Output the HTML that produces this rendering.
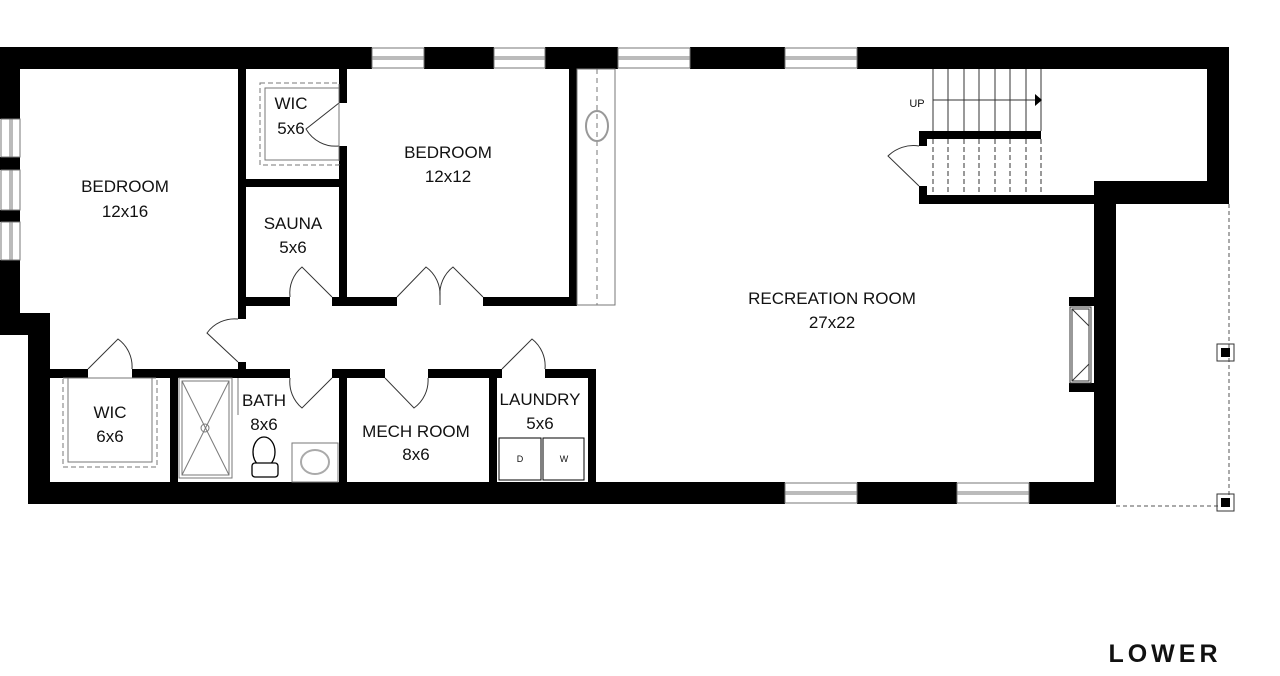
<!DOCTYPE html>
<html><head><meta charset="utf-8"><style>
html,body{margin:0;padding:0;background:#fff;width:1280px;height:676px;overflow:hidden}
svg text{font-family:"Liberation Sans",sans-serif;font-size:17px;fill:#111;text-anchor:middle}
</style></head><body>
<svg width="1280" height="676" viewBox="0 0 1280 676" xmlns="http://www.w3.org/2000/svg">
<g fill="#000">
<!-- top wall -->
<rect x="0" y="47" width="372" height="22"/>
<rect x="424" y="47" width="70" height="22"/>
<rect x="545" y="47" width="73" height="22"/>
<rect x="690" y="47" width="95" height="22"/>
<rect x="857" y="47" width="372" height="22"/>
<!-- right upper -->
<rect x="1207" y="47" width="22" height="157"/>
<rect x="1094" y="181" width="135" height="23"/>
<rect x="1094" y="181" width="22" height="323"/>
<!-- stair walls -->
<rect x="919" y="195" width="190" height="9"/>
<rect x="919" y="131" width="122" height="8"/>
<rect x="919" y="131" width="8" height="15"/>
<rect x="919" y="186" width="8" height="18"/>
<!-- fireplace -->
<rect x="1069" y="297" width="27" height="9"/>
<rect x="1069" y="383" width="27" height="9"/>
<!-- bottom wall -->
<rect x="28" y="482" width="757" height="22"/>
<rect x="857" y="482" width="100" height="22"/>
<rect x="1029" y="482" width="87" height="22"/>
<!-- left wall -->
<rect x="0" y="47" width="20" height="72"/>
<rect x="0" y="157" width="20" height="13"/>
<rect x="0" y="210" width="20" height="12"/>
<rect x="0" y="260" width="20" height="75"/>
<rect x="0" y="313" width="50" height="22"/>
<rect x="28" y="313" width="22" height="191"/>
<!-- interior walls -->
<rect x="238" y="69" width="8" height="250"/>
<rect x="238" y="362" width="8" height="16"/>
<rect x="339" y="69" width="8" height="34"/>
<rect x="339" y="146" width="8" height="160"/>
<rect x="246" y="179" width="93" height="8"/>
<rect x="569" y="69" width="8" height="237"/>
<rect x="246" y="297" width="44" height="9"/>
<rect x="332" y="297" width="65" height="9"/>
<rect x="483" y="297" width="94" height="9"/>
<!-- lower corridor wall -->
<rect x="50" y="369" width="38" height="9"/>
<rect x="132" y="369" width="158" height="9"/>
<rect x="332" y="369" width="53" height="9"/>
<rect x="428" y="369" width="74" height="9"/>
<rect x="545" y="369" width="51" height="9"/>
<rect x="170" y="378" width="8" height="105"/>
<rect x="339" y="378" width="8" height="105"/>
<rect x="489" y="378" width="8" height="105"/>
<rect x="588" y="369" width="8" height="114"/>
</g>
<g fill="none" stroke="#777" stroke-width="1">
<!-- windows -->
<rect x="372" y="48" width="52" height="20"/><line x1="372" y1="57" x2="424" y2="57"/><line x1="372" y1="59" x2="424" y2="59"/>
<rect x="494" y="48" width="51" height="20"/><line x1="494" y1="57" x2="545" y2="57"/><line x1="494" y1="59" x2="545" y2="59"/>
<rect x="618" y="48" width="72" height="20"/><line x1="618" y1="57" x2="690" y2="57"/><line x1="618" y1="59" x2="690" y2="59"/>
<rect x="785" y="48" width="72" height="20"/><line x1="785" y1="57" x2="857" y2="57"/><line x1="785" y1="59" x2="857" y2="59"/>
<rect x="785" y="483" width="72" height="20"/><line x1="785" y1="492" x2="857" y2="492"/><line x1="785" y1="494" x2="857" y2="494"/>
<rect x="957" y="483" width="72" height="20"/><line x1="957" y1="492" x2="1029" y2="492"/><line x1="957" y1="494" x2="1029" y2="494"/>
<rect x="1" y="119" width="19" height="38"/><line x1="10" y1="119" x2="10" y2="157"/><line x1="12" y1="119" x2="12" y2="157"/>
<rect x="1" y="170" width="19" height="40"/><line x1="10" y1="170" x2="10" y2="210"/><line x1="12" y1="170" x2="12" y2="210"/>
<rect x="1" y="222" width="19" height="38"/><line x1="10" y1="222" x2="10" y2="260"/><line x1="12" y1="222" x2="12" y2="260"/>
<!-- closet strip -->
<rect x="577" y="69" width="38" height="236"/>
<line x1="597" y1="69" x2="597" y2="305" stroke-dasharray="5,4"/>
<ellipse cx="597" cy="126" rx="11" ry="15" stroke="#999" stroke-width="2"/>
<!-- stairs -->
<g stroke="#333">
<line x1="933" y1="69" x2="933" y2="131"/><line x1="948" y1="69" x2="948" y2="131"/><line x1="964" y1="69" x2="964" y2="131"/><line x1="979" y1="69" x2="979" y2="131"/><line x1="995" y1="69" x2="995" y2="131"/><line x1="1010" y1="69" x2="1010" y2="131"/><line x1="1026" y1="69" x2="1026" y2="131"/><line x1="1041" y1="69" x2="1041" y2="131"/>
<g stroke-dasharray="5,3"><line x1="933" y1="139" x2="933" y2="195"/><line x1="948" y1="139" x2="948" y2="195"/><line x1="964" y1="139" x2="964" y2="195"/><line x1="979" y1="139" x2="979" y2="195"/><line x1="995" y1="139" x2="995" y2="195"/><line x1="1010" y1="139" x2="1010" y2="195"/><line x1="1026" y1="139" x2="1026" y2="195"/><line x1="1041" y1="139" x2="1041" y2="195"/></g>
<line x1="933" y1="100" x2="1036" y2="100"/>
</g>
<!-- fireplace -->
<rect x="1070" y="307" width="21" height="76" stroke="#333"/>
<rect x="1072" y="309" width="17" height="72" stroke="#333"/>
<line x1="1072" y1="309" x2="1089" y2="326" stroke="#333"/><line x1="1072" y1="381" x2="1089" y2="364" stroke="#333"/>
<!-- doors -->
<g stroke="#333">
<path d="M339 103 L306 129 A34 34 0 0 0 339 146"/>
<path d="M332 297 L302 267 A34 34 0 0 0 290 297"/>
<path d="M397 297 L426 267 A34 34 0 0 1 440 297"/>
<path d="M483 297 L453 267 A34 34 0 0 0 440 297"/>
<line x1="440" y1="295" x2="440" y2="305"/>
<path d="M238 362 L207 333 A34 34 0 0 1 238 319"/>
<path d="M88 369 L118 339 A34 34 0 0 1 132 369"/>
<path d="M332 378 L302 408 A34 34 0 0 1 290 378"/>
<path d="M385 378 L414 408 A34 34 0 0 0 428 378"/>
<path d="M502 369 L532 339 A34 34 0 0 1 545 369"/>
<path d="M919 186 L888 156 A36 36 0 0 1 919 146"/>
</g>
<!-- WIC closets -->
<rect x="260" y="83" width="79" height="82" stroke-dasharray="5,3"/>
<rect x="265" y="88" width="74" height="72"/>
<rect x="63" y="378" width="94" height="89" stroke-dasharray="5,3"/>
<rect x="68" y="378" width="84" height="84"/>
<!-- shower -->
<rect x="179" y="378" width="53" height="100"/>
<rect x="182" y="381" width="47" height="94"/>
<line x1="182" y1="381" x2="229" y2="475"/><line x1="229" y1="381" x2="182" y2="475"/>
<circle cx="205" cy="428" r="4"/>
<line x1="238" y1="378" x2="238" y2="415"/>
<!-- toilet -->
<ellipse cx="264" cy="452" rx="11" ry="15" stroke="#000" stroke-width="1.3"/>
<rect x="252" y="463" width="26" height="14" rx="3" stroke="#000" fill="#fff" stroke-width="1.3"/>
<!-- sink -->
<rect x="292" y="443" width="46" height="39"/>
<ellipse cx="315" cy="462" rx="14" ry="12" stroke="#aaa" stroke-width="2"/>
<!-- washer dryer -->
<rect x="499" y="438" width="42" height="42" stroke="#000"/>
<rect x="543" y="438" width="41" height="42" stroke="#000"/>
<!-- porch -->
<g stroke="#555" stroke-dasharray="4,3"><line x1="1229" y1="204" x2="1229" y2="504"/><line x1="1116" y1="506" x2="1229" y2="506"/></g>
<rect x="1217" y="344" width="17" height="17" stroke="#333"/>
<rect x="1217" y="494" width="17" height="17" stroke="#333"/>
</g>
<polygon points="1035,94 1042,100 1035,106" fill="#000"/>
<rect x="1221" y="348" width="9" height="9" fill="#000"/>
<rect x="1221" y="498" width="9" height="9" fill="#000"/>
<text x="917" y="107" style="font-size:11px">UP</text>
<text x="520" y="462" style="font-size:9px">D</text>
<text x="564" y="462" style="font-size:9px">W</text>
<text x="125" y="192">BEDROOM</text><text x="125" y="217">12x16</text>
<text x="291" y="109">WIC</text><text x="291" y="134">5x6</text>
<text x="448" y="158">BEDROOM</text><text x="448" y="182">12x12</text>
<text x="293" y="229">SAUNA</text><text x="293" y="253">5x6</text>
<text x="832" y="304">RECREATION ROOM</text><text x="832" y="328">27x22</text>
<text x="110" y="418">WIC</text><text x="110" y="442">6x6</text>
<text x="264" y="406">BATH</text><text x="264" y="430">8x6</text>
<text x="416" y="437">MECH ROOM</text><text x="416" y="460">8x6</text>
<text x="540" y="405">LAUNDRY</text><text x="540" y="429">5x6</text>
<text x="1165" y="662" style="font-size:25px;font-weight:bold;letter-spacing:4px">LOWER</text>
</svg>
</body></html>
